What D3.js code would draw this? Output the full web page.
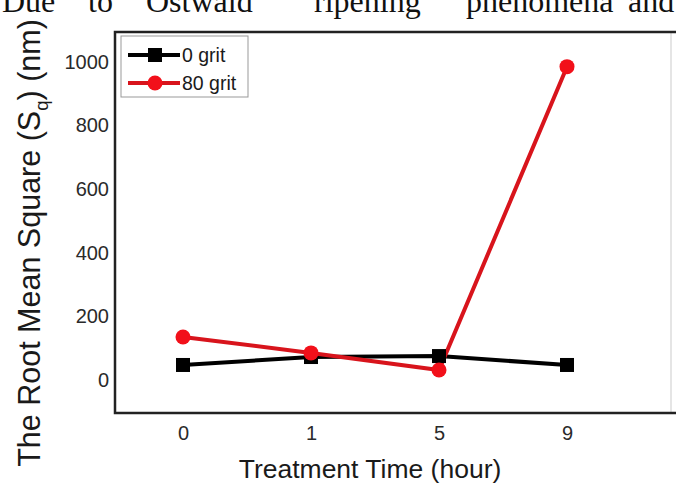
<!DOCTYPE html>
<html>
<head>
<meta charset="utf-8">
<script src="https://cdn.jsdelivr.net/npm/d3@7"></script>
<style>
  body { margin: 0; background: #fff; }
  svg { display: block; }
</style>
</head>
<body>
<div id="chart"></div>
<script>
"use strict";
// data
const hours = ["0", "1", "5", "9"];
const grit0 = [47, 72, 75, 47];
const grit80 = [135, 85, 31, 985];
const yTicks = [0, 200, 400, 600, 800, 1000];
const seriesNames = ["0 grit", "80 grit"];
// words of the cut-off line of body text above the figure
const topWords = ["Due", "to", "Ostwald", "ripening", "phenomena", "and"];
const topWordX = [2, 88, 146, 314, 466, 628];

const W = 676, H = 486;
const plot = { left: 115, top: 32, right: 671, bottom: 413 };

let svg = d3.select("#chart").append("svg")
	.attr("width", W)
	.attr("height", H);

// body text, only bottom part visible
svg.selectAll("text.word")
	.data(topWords)
	.enter()
	.append("text")
	.attr("class", "word")
	.attr("x", (d, i) => topWordX[i])
	.attr("y", 12)
	.style("font-family", "'Liberation Serif', 'DejaVu Serif', serif")
	.style("font-size", "32px")
	.style("fill", "#111")
	.text(d => d);

let x = d3.scalePoint().domain(hours).range([183, 567]);
let y = d3.scaleLinear().domain([-104, 1094]).range([plot.bottom, plot.top]);

// frame
svg.append("line")
	.attr("x1", plot.right).attr("x2", plot.right)
	.attr("y1", plot.top).attr("y2", plot.bottom)
	.style("stroke", "#ddd").style("stroke-width", "1.5px");
svg.append("path")
	.attr("d", "M" + W + "," + plot.top + "H" + plot.left + "V" + plot.bottom + "H" + W)
	.style("fill", "none")
	.style("stroke", "#222")
	.style("stroke-width", "2.5px");

// axes (labels only)
let yAxis = svg.append("g")
	.attr("transform", "translate(" + (plot.left - 6) + ",0)")
	.call(d3.axisLeft(y).tickValues(yTicks).tickFormat(d3.format("d")).tickSize(0).tickPadding(0));
yAxis.select(".domain").remove();

let xAxis = svg.append("g")
	.attr("transform", "translate(0," + (plot.bottom + 13) + ")")
	.call(d3.axisBottom(x).tickSize(0).tickPadding(0));
xAxis.select(".domain").remove();

svg.selectAll(".tick text")
	.style("font-family", "'Liberation Sans', Arial, sans-serif")
	.style("font-size", "20px")
	.style("fill", "#2a2a2a");

// axis titles
svg.append("text")
	.attr("x", 370)
	.attr("y", 478)
	.attr("text-anchor", "middle")
	.style("font-family", "'Liberation Sans', Arial, sans-serif")
	.style("font-size", "26.5px")
	.style("fill", "#1a1a1a")
	.text("Treatment Time (hour)");

let yTitle = svg.append("text")
	.attr("transform", "translate(40,243) rotate(-90)")
	.attr("text-anchor", "middle")
	.style("font-family", "'Liberation Sans', Arial, sans-serif")
	.style("font-size", "30.5px")
	.style("fill", "#1a1a1a");
yTitle.append("tspan").text("The Root Mean Square (S");
yTitle.append("tspan").attr("dy", 8).style("font-size", "18.5px").text("q");
yTitle.append("tspan").attr("dy", -8).text(") (nm)");

let line = d3.line()
	.x((d, i) => x(hours[i]))
	.y(d => y(d));

// 0 grit
svg.append("path")
	.datum(grit0)
	.attr("d", line)
	.style("fill", "none")
	.style("stroke", "#000")
	.style("stroke-width", "4px");

// 80 grit
svg.append("path")
	.datum(grit80)
	.attr("d", line)
	.style("fill", "none")
	.style("stroke", "#d8141c")
	.style("stroke-width", "4px");

svg.selectAll("rect.m0")
	.data(grit0)
	.enter()
	.append("rect")
	.attr("class", "m0")
	.attr("x", (d, i) => x(hours[i]) - 7)
	.attr("y", d => y(d) - 7)
	.attr("width", 14)
	.attr("height", 14)
	.style("fill", "#000");

svg.selectAll("circle.m80")
	.data(grit80)
	.enter()
	.append("circle")
	.attr("class", "m80")
	.attr("cx", (d, i) => x(hours[i]))
	.attr("cy", d => y(d))
	.attr("r", 7.5)
	.style("fill", "#f2101a");

// legend
let legend = svg.append("g");
legend.append("rect")
	.attr("x", 121).attr("y", 36)
	.attr("width", 127).attr("height", 61)
	.style("fill", "#fff")
	.style("stroke", "#999")
	.style("stroke-width", "1px");

let rows = [55, 83];
let colors = ["#000", "#d8141c"];
seriesNames.forEach(function (name, i) {
	legend.append("line")
		.attr("x1", 128).attr("x2", 180)
		.attr("y1", rows[i]).attr("y2", rows[i])
		.style("stroke", colors[i])
		.style("stroke-width", "4px");
	if (i == 0) {
		legend.append("rect")
			.attr("x", 148).attr("y", rows[i] - 7)
			.attr("width", 14).attr("height", 14)
			.style("fill", "#000");
	} else {
		legend.append("circle")
			.attr("cx", 155).attr("cy", rows[i])
			.attr("r", 7.5)
			.style("fill", "#f2101a");
	}
	legend.append("text")
		.attr("x", 182)
		.attr("y", rows[i] + 7)
		.style("font-family", "'Liberation Sans', Arial, sans-serif")
		.style("font-size", "19.5px")
		.style("fill", "#1a1a1a")
		.text(name);
});
</script>
</body>
</html>
